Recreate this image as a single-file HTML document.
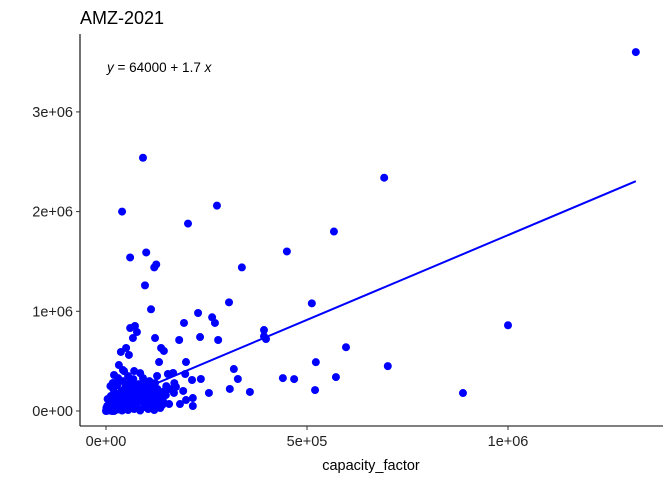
<!DOCTYPE html>
<html><head><meta charset="utf-8"><style>
body{margin:0;background:#fff;}
svg{display:block;font-family:"Liberation Sans",Arial,sans-serif;}
</style></head><body>
<svg id="chart" width="672" height="480" viewBox="0 0 672 480">
<rect width="672" height="480" fill="#fff"/>
<text x="80" y="24" font-size="18" fill="#000">AMZ-2021</text>
<text x="107" y="72" font-size="13.5" fill="#000"><tspan font-style="italic">y</tspan> = 64000 + 1.7 <tspan font-style="italic">x</tspan></text>
<g id="points"></g>
<g id="axes"></g>
<text x="371" y="470" font-size="14.5" text-anchor="middle" fill="#000">capacity_factor</text>
</svg>
<script>
// data in thousands
const xs=[1318,92,692,40,276,204,567,450,100,60,120,338,125,97,306,512,112,264,393,1000,597,701,888,522,440,468,572,520,
199,234,279,271,194,182,229,122,132,137,144,60,72,77,67,50,37,57,318,328,308,358,256,393,398,214,236,197,167,154,127,192,174,169,216,199,184,216,157,142,119,149,32,42,70,20,17,
0,5,10,15,20,25,30,35,40,45,50,55,60,65,70,75,80,85,90,95,100,105,110,115,120,125,130,135,140,8,12,18,22,28,33,38,42,48,52,58,62,68,72,78,82,88,92,98,102,108,112,118,122,128,3,6,9,14,17,24,27,32,37,43,47,53,57,63,67,73,77,83,87,93,97,103,107,113,117,123,127,132,137,145,150,160,170,55,45,30,85,20,2,4,11,15,1];
const ys=[3600,2540,2340,2000,2060,1880,1800,1600,1590,1540,1440,1440,1470,1260,1090,1080,1020,940,750,860,640,450,180,490,330,320,340,210,
491,742,712,883,883,712,983,732,491,632,602,832,853,792,732,632,592,562,421,321,221,191,181,812,722,311,321,371,381,371,351,201,241,181,130,110,70,50,70,100,40,160,461,411,401,361,281,
0,10,5,20,0,40,15,60,5,30,80,10,45,120,20,60,100,5,150,40,70,20,130,50,10,90,180,30,60,100,150,220,180,260,120,200,300,240,170,280,210,320,250,190,270,220,330,260,200,300,240,180,280,220,50,30,70,90,40,110,80,30,140,90,160,130,50,160,90,140,30,170,110,80,190,120,160,90,140,50,140,100,130,200,250,220,280,350,400,330,380,5,2,120,250,0,30];
const xTicks=[0,500000,1000000];
const xTickLabels=["0e+00","5e+05","1e+06"];
const yTicks=[0,1000000,2000000,3000000];
const yTickLabels=["0e+00","1e+06","2e+06","3e+06"];
const intercept=64000, slope=1.7, xMin=0, xMax=1318000;
const sx=v=>106+v/500000*201;
const sy=v=>411-v/1000000*99.7;
const NS="http://www.w3.org/2000/svg";
function mk(t,a,p){const e=document.createElementNS(NS,t);for(const k in a)e.setAttribute(k,a[k]);p.appendChild(e);return e;}
const pg=document.getElementById('points');
for(let i=0;i<xs.length;i++){
 const c=mk('circle',{cx:sx(xs[i]*1000),cy:sy(ys[i]*1000),r:4,fill:'#0000ff'},pg);
 
 
}
const ln=mk('line',{x1:sx(xMin),y1:sy(intercept+slope*xMin),x2:sx(xMax),y2:sy(intercept+slope*xMax),stroke:'#0000ff','stroke-width':2},pg);


const ax=document.getElementById('axes');
const xa=mk('line',{x1:80,y1:426,x2:663,y2:426,stroke:'#000','stroke-width':1.1},ax);


const ya=mk('line',{x1:80,y1:34,x2:80,y2:426,stroke:'#000','stroke-width':1.1},ax);


xTicks.forEach((v,i)=>{
 const t=mk('line',{x1:sx(v),y1:426,x2:sx(v),y2:430,stroke:'#333'},ax);
 
 
 const l=mk('text',{x:sx(v),y:446,'font-size':14.5,'text-anchor':'middle',fill:'#222'},ax);
 l.textContent=xTickLabels[i];
 
 
});
yTicks.forEach((v,i)=>{
 const t=mk('line',{x1:76,y1:sy(v),x2:80,y2:sy(v),stroke:'#333'},ax);
 
 
 const l=mk('text',{x:73,y:sy(v)+5,'font-size':14.5,'text-anchor':'end',fill:'#222'},ax);
 l.textContent=yTickLabels[i];
 
 
});
</script>
</body></html>
